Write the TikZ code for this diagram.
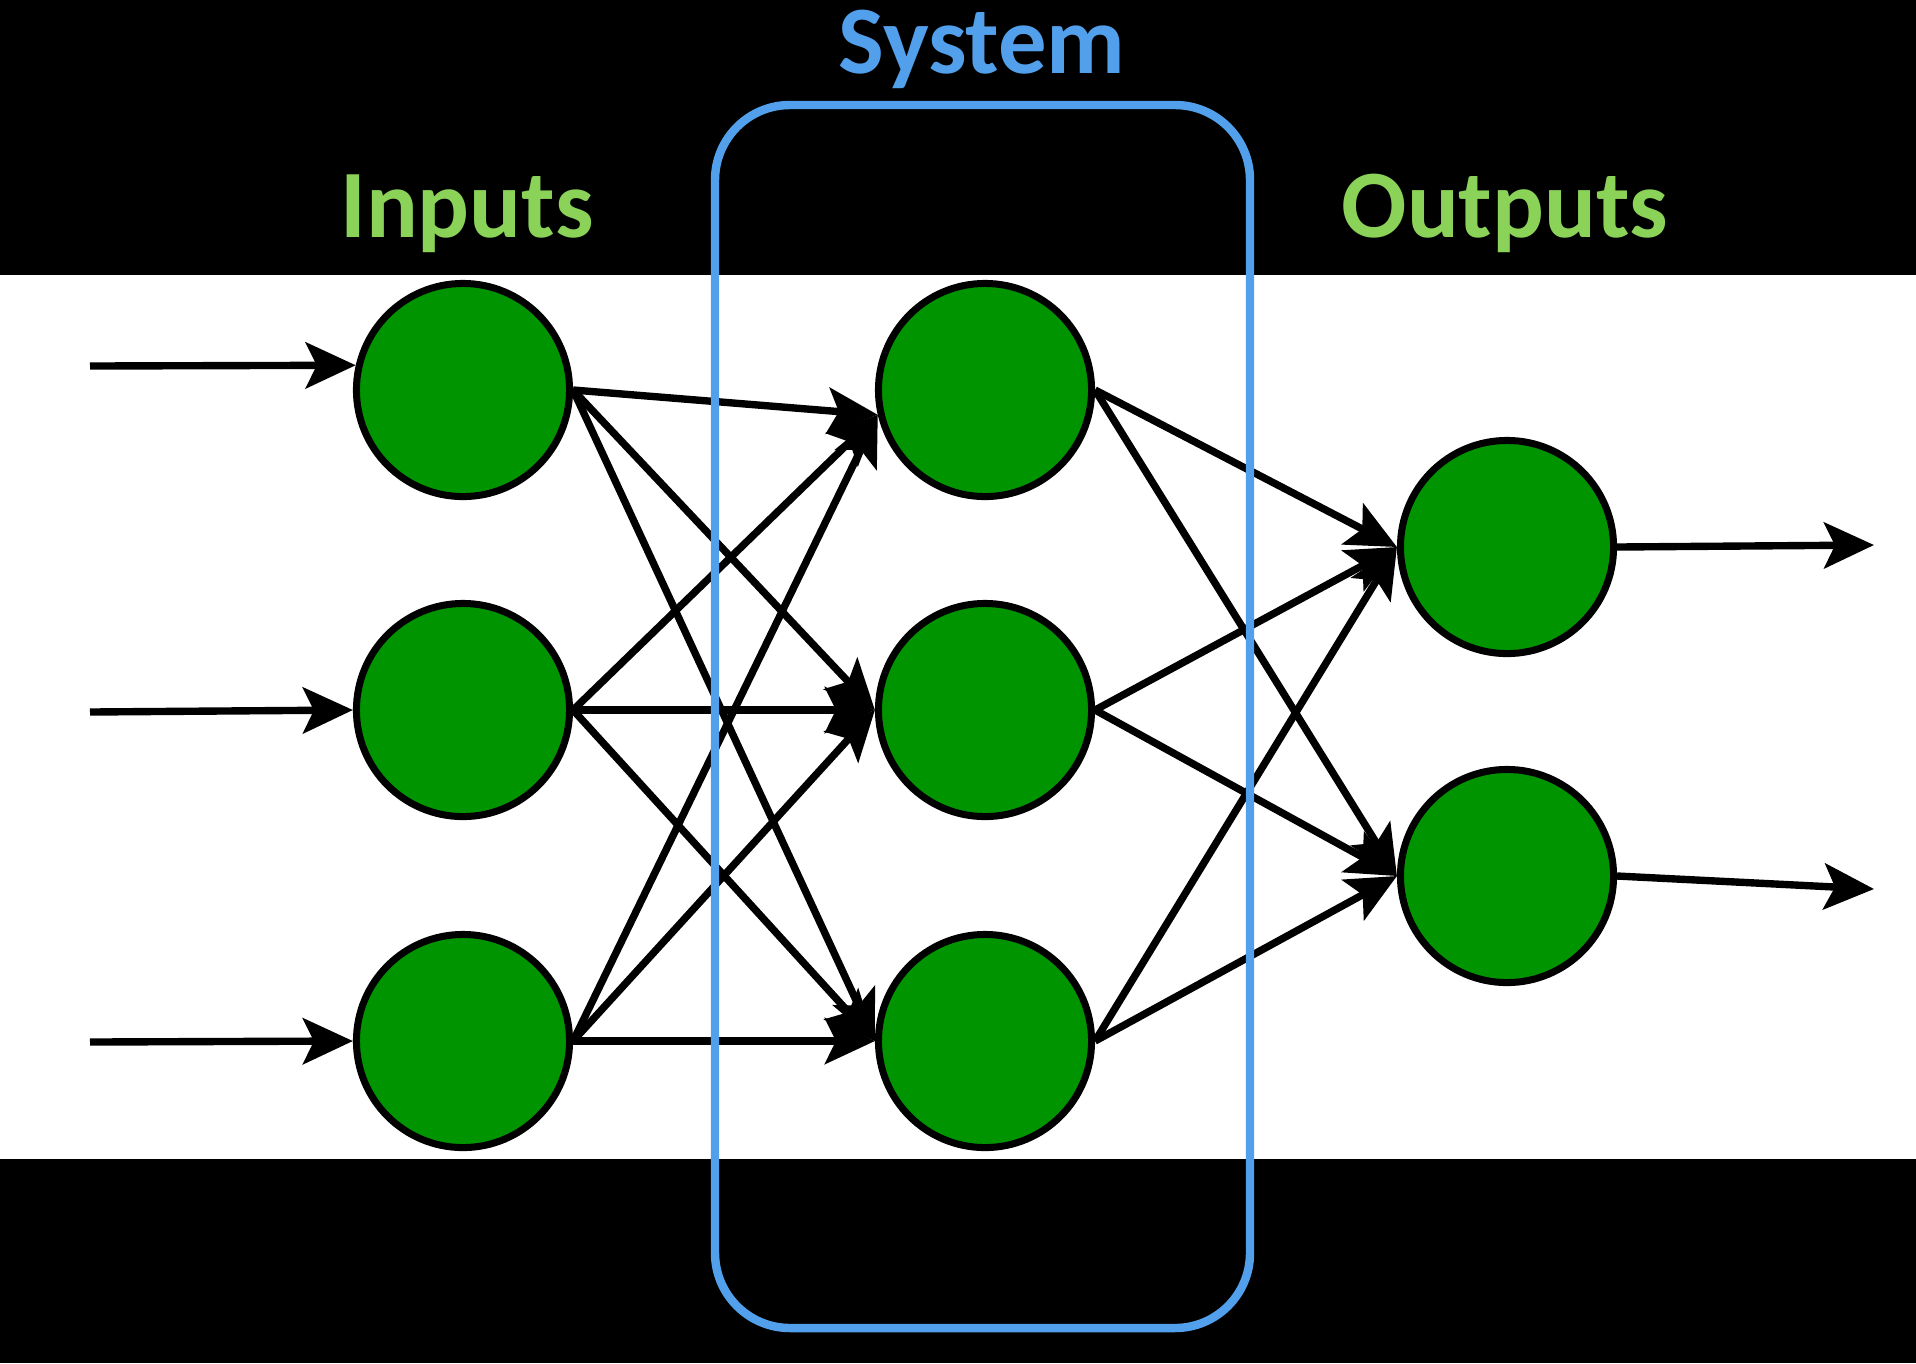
\documentclass[tikz,border=0pt]{standalone}
\usepackage{fontspec}
\setmainfont{Carlito}
\usetikzlibrary{arrows.meta}
\definecolor{nodegreen}{RGB}{0,148,0}
\definecolor{labgreen}{RGB}{139,211,88}
\definecolor{sysblue}{RGB}{82,160,235}
\tikzset{
  neuron/.style={circle, draw=black, line width=2pt, fill=nodegreen, minimum size=2.13cm, inner sep=0pt},
  conn/.style={line width=2.1pt, -{Stealth[length=0.5cm, width=0.46cm, inset=0.11cm]}},
  lab/.style={font=\fontsize{27.5}{31}\selectfont\bfseries, anchor=base, inner sep=0pt},
}
\begin{document}
\begin{tikzpicture}[x=0.01cm, y=-0.01cm]
\useasboundingbox (0,0) rectangle (1916,1363);
\fill[black] (0,0) rectangle (1916,1363);
\fill[white] (0,275) rectangle (1916,1159);
% nodes
\node[neuron] (i1) at (463,390) {};
\node[neuron] (i2) at (463,710) {};
\node[neuron] (i3) at (463,1041) {};
\node[neuron] (h1) at (985,390) {};
\node[neuron] (h2) at (985,710) {};
\node[neuron] (h3) at (985,1041) {};
\node[neuron] (o1) at (1507,547) {};
\node[neuron] (o2) at (1507,876) {};
% free ends
\coordinate (a1) at (90,366);
\coordinate (a2) at (90,712);
\coordinate (a3) at (90,1042);
\coordinate (b1) at (1874,545);
\coordinate (b2) at (1874,889);
% input arrows
\draw[conn] (a1) -- (i1.167);
\draw[conn] (a2) -- (i2.west);
\draw[conn] (a3) -- (i3.west);
% input to hidden
\foreach \s in {i1,i2,i3}{
  \draw[conn] (\s.east) -- (h1.193);
  \draw[conn] (\s.east) -- (h2.west);
  \draw[conn] (\s.east) -- (h3.west);
}
% hidden to output
\foreach \s in {h1,h2,h3}{
  \draw[conn] (\s.east) -- (o1.west);
  \draw[conn] (\s.east) -- (o2.west);
}
% output arrows
\draw[conn] (o1.east) -- (b1);
\draw[conn] (o2.east) -- (b2);
% system box
\draw[sysblue, line width=2.4pt, rounded corners=0.75cm] (715,105) rectangle (1250,1328);
% labels
\node[lab, text=sysblue] (sys) at (982,73) {System};
\node[lab, text=labgreen] (inp) at (467,237) {Inputs};
\node[lab, text=labgreen] (outp) at (1505,237) {Outputs};
\end{tikzpicture}
\end{document}
